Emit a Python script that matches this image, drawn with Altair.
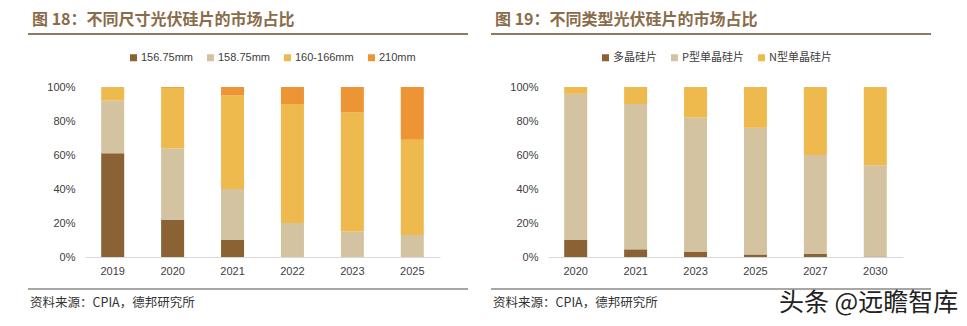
import altair as alt
import pandas as pd

# ---- data ----
sizes = ["156.75mm", "158.75mm", "160-166mm", "210mm"]
years_l = ["2019", "2020", "2021", "2022", "2023", "2025"]
s156 = [61, 22, 10, 0, 0, 0]
s158 = [31, 42, 30, 20, 15, 13]
s160 = [8, 35.5, 55, 70, 70, 56]
s210 = [0, 0.5, 5, 10, 15, 31]

types = ["多晶硅片", "P型单晶硅片", "N型单晶硅片"]
years_r = ["2020", "2021", "2023", "2025", "2027", "2030"]
multi = [10, 4.5, 3, 1.5, 2, 0.3]
ptype = [86, 85.5, 79, 74.5, 58, 53.7]
ntype = [4, 10, 18, 24, 40, 46]

title_l = "图 18：不同尺寸光伏硅片的市场占比"
title_r = "图 19：不同类型光伏硅片的市场占比"
source = "资料来源：CPIA，德邦研究所"
watermark = "头条 @远瞻智库"

col_l = ["#8B6234", "#D4C3A0", "#EEBA4E", "#ED9434"]
col_r = ["#8B6234", "#D4C3A0", "#EEBA4E"]

LAT = "Liberation Sans"
CJK = "Noto Sans CJK SC"

rows_l = []
for i, y in enumerate(years_l):
    for k, (name, vals) in enumerate(zip(sizes, [s156, s158, s160, s210])):
        rows_l.append({"year": y, "cat": name, "value": vals[i], "order": k})
df_l = pd.DataFrame(rows_l)

rows_r = []
for i, y in enumerate(years_r):
    for k, (name, vals) in enumerate(zip(types, [multi, ptype, ntype])):
        rows_r.append({"year": y, "cat": name, "value": vals[i], "order": k})
df_r = pd.DataFrame(rows_r)

W, H = 355, 170


def panel(df, years, cats, colors, title, legend_x, label_font, anchor=False):
    bars = alt.Chart(df).mark_bar(size=23).encode(
        x=alt.X("year:N", sort=years,
                scale=alt.Scale(paddingInner=0.615, paddingOuter=0.27),
                axis=alt.Axis(title=None, labelAngle=0, ticks=False, domain=True,
                              domainColor="#d9d9d9", labelFont=LAT, labelFontSize=11,
                              labelColor="#404040", labelPadding=8)),
        y=alt.Y("value:Q", stack="zero",
                scale=alt.Scale(domain=[0, 100], nice=False),
                axis=alt.Axis(title=None, values=[0, 20, 40, 60, 80, 100],
                              labelExpr="datum.value + '%'", domain=False, ticks=False,
                              grid=False, labelFont=LAT, labelFontSize=11,
                              labelColor="#404040", labelPadding=10)),
        color=alt.Color("cat:N", sort=cats,
                        scale=alt.Scale(domain=cats, range=colors),
                        legend=alt.Legend(title=None, orient="none", direction="horizontal",
                                          legendX=legend_x, legendY=-35,
                                          symbolType="square", symbolSize=49,
                                          symbolStrokeWidth=0,
                                          labelFont=label_font, labelFontSize=11,
                                          labelColor="#404040", labelOffset=2,
                                          columnPadding=12)),
        order=alt.Order("order:Q"),
    )
    one = alt.Data(values=[{"a": 1}])
    ttl = alt.Chart(one).mark_text(align="left", baseline="middle", font=CJK,
                                   fontSize=16, fontWeight="bold", color="#8A6C4A").encode(
        x=alt.value(-53), y=alt.value(-67), text=alt.value(title))
    top_rule = alt.Chart(one).mark_rule(color="#8E7A62", strokeWidth=2).encode(
        x=alt.value(-57), x2=alt.value(383), y=alt.value(-53))
    bot_rule = alt.Chart(one).mark_rule(color="#8A8A8A", strokeWidth=1.5).encode(
        x=alt.value(-57), x2=alt.value(383), y=alt.value(202))
    src = alt.Chart(one).mark_text(align="left", baseline="middle", font=CJK,
                                   fontSize=12.5, color="#333333").encode(
        x=alt.value(-55), y=alt.value(216), text=alt.value(source))
    layers = [bars, ttl, top_rule, bot_rule, src]
    if anchor:
        anc = alt.Chart(one).mark_rule(color="white", strokeWidth=1).encode(
            x=alt.value(-84.5), x2=alt.value(-83), y=alt.value(-86.5))
        layers.append(anc)
    return alt.layer(*layers).properties(width=W, height=H)


left = panel(df_l, years_l, sizes, col_l, title_l, 43, LAT, anchor=True)
right = panel(df_r, years_r, types, col_r, title_r, 52, CJK)

one = alt.Data(values=[{"a": 1}])
wm = alt.Chart(one).mark_text(align="left", baseline="middle", font=CJK,
                              fontSize=25, color="#222222").encode(
    x=alt.value(231), y=alt.value(216), text=alt.value(watermark))
right = alt.layer(right, wm)

chart = alt.hconcat(left, right, spacing=108, bounds="flush").resolve_scale(
    color="independent", x="independent", y="independent"
).resolve_legend(color="independent").properties(
    padding={"left": 0, "top": 0, "right": 6, "bottom": 4},
    background="white",
).configure_view(stroke=None)

chart.save("out.html", embed_options={"renderer": "svg", "actions": False})
